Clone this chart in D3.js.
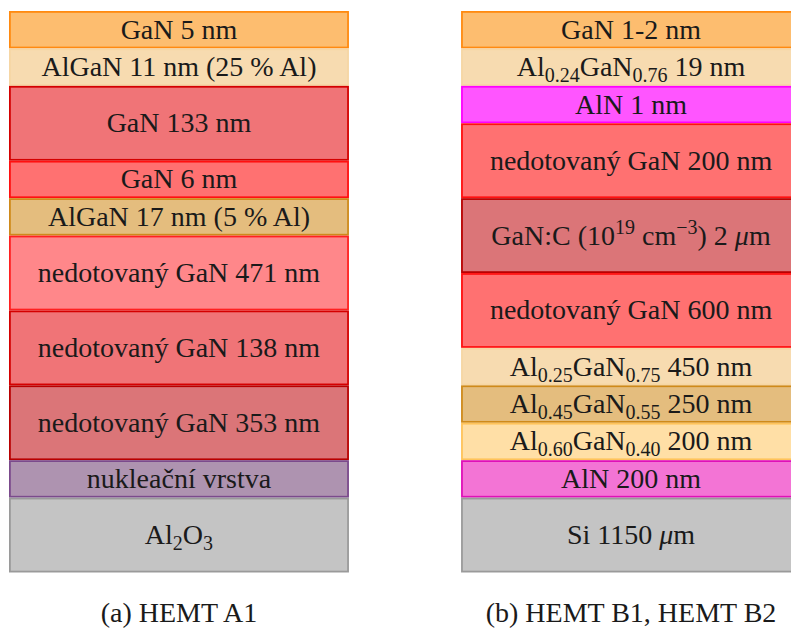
<!DOCTYPE html>
<html>
<head>
<meta charset="utf-8">
<script src="https://cdn.jsdelivr.net/npm/d3@7"></script>
<style>
  body { margin: 0; background: #fff; }
  svg text, svg tspan { font-family: "Liberation Serif", "Times New Roman", serif; }
</style>
</head>
<body>
<div id="chart"></div>
<script>
// layer stacks, top to bottom
let stacks = ['a', 'b'];
let captions = ['(a) HEMT A1', '(b) HEMT B1, HEMT B2'];

let labelsA = [
  'GaN 5 nm',
  'AlGaN 11 nm (25 % Al)',
  'GaN 133 nm',
  'GaN 6 nm',
  'AlGaN 17 nm (5 % Al)',
  'nedotovaný GaN 471 nm',
  'nedotovaný GaN 138 nm',
  'nedotovaný GaN 353 nm',
  'nukleační vrstva',
  'Al_{2}O_{3}',
];
let unitsA = [1, 1, 2, 1, 1, 2, 2, 2, 1, 2];
let kindsA = ['cap', 'algan', 'gan', 'ganRed', 'alganDark', 'ganLight', 'gan', 'ganDark', 'nucl', 'sub'];

let labelsB = [
  'GaN 1-2 nm',
  'Al_{0.24}GaN_{0.76} 19 nm',
  'AlN 1 nm',
  'nedotovaný GaN 200 nm',
  'GaN:C (10^{19} cm^{−3}) 2 *μ*m',
  'nedotovaný GaN 600 nm',
  'Al_{0.25}GaN_{0.75} 450 nm',
  'Al_{0.45}GaN_{0.55} 250 nm',
  'Al_{0.60}GaN_{0.40} 200 nm',
  'AlN 200 nm',
  'Si 1150 *μ*m',
];
let unitsB = [1, 1, 1, 2, 2, 2, 1, 1, 1, 1, 2];
let kindsB = ['cap', 'algan', 'alnThin', 'ganRed', 'ganDark', 'ganRed', 'algan', 'alganDark', 'alganPale', 'aln', 'sub'];

// colours per material kind
let fills = {
  cap: '#fdbd6f', algan: '#f7dbb0', gan: '#f07477', ganRed: '#ff7171',
  alganDark: '#e4bd7e', ganLight: '#ff878a', ganDark: '#db7578', nucl: '#ae93b0',
  sub: '#c4c4c4', alnThin: '#ff55ff', alganPale: '#ffdfa6', aln: '#f374d5',
};
let strokes = {
  cap: '#ff8a10', algan: '#f6d6a4', gan: '#d40000', ganRed: '#ff1010',
  alganDark: '#cf8a1a', ganLight: '#ff2020', ganDark: '#b80000', nucl: '#7b4a8c',
  sub: '#9a9a9a', alnThin: '#ff00ff', alganPale: '#ffc35a', aln: '#e010b8',
};

let width = 791, height = 631;
let yTop = 11, yBottom = 572.5;
let sw = 1.8;
let serifFace = 'Liberation Serif';
let ink = '#1a1a1a';

let svg = d3.select('#chart').append('svg')
  .attr('width', width).attr('height', height)
  .attr('font-family', serifFace);

let x = d3.scaleBand().domain(stacks).range([9, 801]).paddingInner(0.248);

// write "a_{sub}b^{sup}*it*" into tspans
let richText = (sel, str) => {
  let re = /(_\{[^}]*\}|\^\{[^}]*\}|\*[^*]*\*)/;
  str.split(re).filter((s) => s.length).forEach((part) => {
    if (part[0] === '_') {
      sel.append('tspan').attr('font-size', 20).attr('baseline-shift', -6).text(part.slice(2, -1));
    } else if (part[0] === '^') {
      sel.append('tspan').attr('font-size', 20).attr('baseline-shift', 11).text(part.slice(2, -1));
    } else if (part[0] === '*') {
      sel.append('tspan').attr('font-style', 'italic').text(part.slice(1, -1));
    } else {
      sel.append('tspan').text(part);
    }
  });
};

let drawStack = (key, labels, units, kinds) => {
  let total = d3.sum(units);
  let y = d3.scaleLinear().domain([0, total]).range([yTop, yBottom]);
  let starts = Array.from(d3.cumsum([0].concat(units)));
  let data = labels.map((l, i) => ({ label: l, start: starts[i], end: starts[i + 1], kind: kinds[i] }));

  let g = svg.append('g').attr('class', 'stack-' + key);
  let x0 = x(key);

  let layer = g.selectAll('g.layer').data(data).join('g').attr('class', 'layer');

  layer.append('rect')
    .attr('x', x0 + sw / 2)
    .attr('y', (d) => y(d.start) + sw / 2)
    .attr('width', x.bandwidth() - sw)
    .attr('height', (d) => y(d.end) - y(d.start) - sw)
    .attr('fill', (d) => fills[d.kind])
    .attr('stroke', (d) => strokes[d.kind])
    .attr('stroke-width', sw);

  layer.append('text')
    .attr('x', x0 + x.bandwidth() / 2)
    .attr('y', (d) => (y(d.start) + y(d.end)) / 2 + 9)
    .attr('text-anchor', 'middle')
    .attr('font-family', serifFace)
    .attr('font-size', 28)
    .attr('fill', ink)
    .each(function (d) { richText(d3.select(this), d.label); });
};

drawStack('a', labelsA, unitsA, kindsA);
drawStack('b', labelsB, unitsB, kindsB);

// captions under each stack
svg.selectAll('text.caption')
  .data(stacks)
  .join('text')
  .attr('class', 'caption')
  .attr('x', (d) => x(d) + x.bandwidth() / 2)
  .attr('y', 622)
  .attr('text-anchor', 'middle')
  .attr('font-family', serifFace)
  .attr('font-size', 28)
  .attr('fill', ink)
  .text((d, i) => captions[i]);
</script>
</body>
</html>
